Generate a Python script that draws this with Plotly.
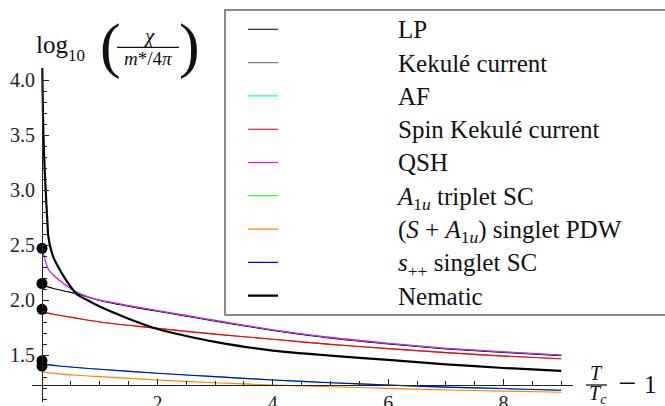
import plotly.graph_objects as go

W, H = 665, 406
FONT = "Liberation Serif, Times New Roman, serif"

# ---------------- data ----------------
x_lp = [0.02, 0.05, 0.2, 0.4, 0.625, 0.8, 1.0, 1.3, 1.6, 2.0, 2.5, 3.0, 4.0, 5.0, 6.0, 7.0, 8.0, 9.0]
y_lp = [2.14, 2.13, 2.105, 2.08, 2.055, 2.025, 1.995, 1.962, 1.933, 1.898, 1.853, 1.808, 1.723, 1.653, 1.601, 1.556, 1.524, 1.494]

x_spin = [0.02, 0.05, 0.2, 0.43, 0.7, 1.0, 1.5, 2.0, 3.0, 4.0, 5.0, 6.0, 7.0, 8.0, 9.0]
y_spin = [1.89, 1.885, 1.87, 1.85, 1.825, 1.80, 1.77, 1.742, 1.69, 1.643, 1.597, 1.558, 1.522, 1.49, 1.466]
x_kek = x_spin
y_kek = [1.89, 1.885, 1.87, 1.85, 1.825, 1.80, 1.77, 1.742, 1.69, 1.643, 1.597, 1.558, 1.522, 1.49, 1.466]

x_qsh = [0.0, 0.01, 0.025, 0.05, 0.08, 0.12, 0.2, 0.3, 0.45, 0.625, 0.8, 1.0, 1.3, 1.6, 2.0, 2.5, 3.0, 4.0, 5.0, 6.0, 7.0, 8.0, 9.0]
y_qsh = [2.47, 2.45, 2.42, 2.37, 2.32, 2.27, 2.225, 2.18, 2.12, 2.065, 2.03, 2.0, 1.97, 1.94, 1.905, 1.86, 1.815, 1.73, 1.66, 1.607, 1.562, 1.53, 1.50]
x_af = x_qsh
y_af = [2.47, 2.45, 2.42, 2.37, 2.32, 2.27, 2.225, 2.18, 2.12, 2.065, 2.03, 2.0, 1.97, 1.94, 1.905, 1.86, 1.815, 1.73, 1.66, 1.607, 1.562, 1.53, 1.50]

x_spp = [0.02, 0.05, 0.3, 0.6, 1.0, 2.0, 3.0, 4.0, 5.0, 6.0, 7.0, 8.0, 9.0]
y_spp = [1.42, 1.415, 1.40, 1.387, 1.37, 1.334, 1.303, 1.273, 1.248, 1.227, 1.208, 1.195, 1.18]
x_a1u = x_spp
y_a1u = [1.42, 1.415, 1.40, 1.387, 1.37, 1.334, 1.303, 1.273, 1.248, 1.227, 1.208, 1.195, 1.18]

x_pdw = [0.02, 0.05, 0.3, 0.6, 1.0, 2.0, 3.0, 4.0, 5.0, 6.0, 7.0, 8.0, 9.0]
y_pdw = [1.35, 1.343, 1.328, 1.316, 1.303, 1.273, 1.248, 1.227, 1.212, 1.197, 1.182, 1.172, 1.161]

x_nem = [0.004, 0.012, 0.0225, 0.045, 0.069, 0.09, 0.109, 0.15, 0.196, 0.282, 0.4, 0.6, 0.8, 1.0, 1.5, 2.0, 2.5, 3.0, 4.0, 5.0, 6.0, 7.0, 8.0, 9.0]
y_nem = [4.15, 3.85, 3.53, 3.2, 2.94, 2.74, 2.58, 2.47, 2.39, 2.30, 2.195, 2.055, 1.995, 1.94, 1.83, 1.736, 1.673, 1.62, 1.54, 1.494, 1.455, 1.415, 1.382, 1.355]

x_tc = [0, 0, 0, 0, 0]
y_tc = [2.47, 2.15, 1.915, 1.448, 1.40]

x_major = [2, 4, 6, 8]
x_minor = [0.5, 1, 1.5, 2.5, 3, 3.5, 4.5, 5, 5.5, 6.5, 7, 7.5, 8.5, 9]
y_major = [1.5, 2.0, 2.5, 3.0, 3.5, 4.0]
y_major_text = ["1.5", "2.0", "2.5", "3.0", "3.5", "4.0"]
y_minor = [1.1, 1.2, 1.3, 1.4, 1.6, 1.7, 1.8, 1.9, 2.1, 2.2, 2.3, 2.4, 2.6, 2.7, 2.8, 2.9,
           3.1, 3.2, 3.3, 3.4, 3.6, 3.7, 3.8, 3.9]

series = [
    ("LP", x_lp, y_lp, "#000000", 1.1),
    ("Kekulé current", x_kek, y_kek, "#808080", 1.1),
    ("AF", x_af, y_af, "#00FFFF", 1.1),
    ("Spin Kekulé current", x_spin, y_spin, "#FF0000", 1.1),
    ("QSH", x_qsh, y_qsh, "#FF00FF", 1.1),
    ("<i>A</i><sub>1<i>u</i></sub> triplet SC", x_a1u, y_a1u, "#00FF00", 1.1),
    ("(<i>S</i> + <i>A</i><sub>1<i>u</i></sub>) singlet PDW", x_pdw, y_pdw, "#FF8000", 1.1),
    ("<i>s</i><sub>++</sub> singlet SC", x_spp, y_spp, "#0000FF", 1.1),
    ("Nematic", x_nem, y_nem, "#000000", 2.2),
]

# ---------------- pixel helpers for layout ----------------
def px(x):
    return x / W

def py(y):
    return 1 - y / H

X0_PX, XSCALE = 42.0, 57.7     # x=0 pixel, px per unit
Y2_PX, YSCALE = 300.0, 110.0   # y=2 pixel, px per unit

def xval(p):
    return (p - X0_PX) / XSCALE

def yval(p):
    return 2 + (Y2_PX - p) / YSCALE

PAD = "\u00a0" * 20

fig = go.Figure()
for i, (name, xs, ys, col, lw) in enumerate(series):
    fig.add_trace(go.Scatter(
        x=xs, y=ys, mode="lines",
        name=PAD + '<span style="font-size:25px">' + name + "</span>",
        line=dict(color=col, width=lw, shape="spline", smoothing=0.6),
        legendgroup="g%d" % i,
    ))

fig.add_trace(go.Scatter(
    x=x_tc, y=y_tc, mode="markers", showlegend=False,
    marker=dict(color="black", size=11), cliponaxis=False,
))

axis_col = "#222222"
LEG_FS = 23
item_h = LEG_FS * 1.3 + 3
row_gap = 33.3
leg_top = 29.3 - item_h / 2 - 5

fig.update_layout(
    template="none",
    width=W, height=H, autosize=False,
    margin=dict(l=0, r=0, t=0, b=0, pad=0, autoexpand=False),
    paper_bgcolor="white", plot_bgcolor="white",
    font=dict(family=FONT, size=19, color="#111111"),
    xaxis=dict(
        automargin=False,
        domain=[px(31.7), px(573)],
        range=[xval(31.7), xval(573)],
        showgrid=False, zeroline=False,
        showline=True, linecolor=axis_col, linewidth=1,
        anchor="free", position=py(385),
        ticks="inside", ticklen=6, tickwidth=1, tickcolor=axis_col,
        tickmode="array", tickvals=x_major, ticktext=[str(v) for v in x_major],
        ticklabelstandoff=0,
        minor=dict(tickmode="array", tickvals=x_minor, ticks="inside", ticklen=4,
                   tickwidth=1, tickcolor=axis_col, showgrid=False),
        tickfont=dict(family=FONT, size=20, color="#222222"),
    ),
    yaxis=dict(
        automargin=False,
        domain=[py(402), py(68)],
        range=[yval(402), yval(68)],
        showgrid=False, zeroline=False,
        showline=True, linecolor=axis_col, linewidth=1,
        anchor="free", position=px(42),
        ticks="inside", ticklen=6, tickwidth=1, tickcolor=axis_col,
        tickmode="array", tickvals=y_major, ticktext=y_major_text,
        ticklabelstandoff=3,
        minor=dict(tickmode="array", tickvals=y_minor, ticks="inside", ticklen=3.5,
                   tickwidth=1, tickcolor=axis_col, showgrid=False),
        tickfont=dict(family=FONT, size=20, color="#222222"),
    ),
    legend=dict(
        x=px(243), y=py(leg_top), xanchor="left", yanchor="top",
        bgcolor="rgba(0,0,0,0)", borderwidth=0,
        font=dict(family=FONT, size=LEG_FS, color="#111111"),
        itemwidth=30, tracegroupgap=row_gap - item_h,
        traceorder="grouped",
    ),
    showlegend=True,
)

# legend frame
fig.add_shape(type="rect", xref="paper", yref="paper",
              x0=px(225), x1=px(700), y0=py(315), y1=py(10),
              line=dict(color="#666666", width=1.5), fillcolor="rgba(0,0,0,0)", layer="above")

# fraction bars
fig.add_shape(type="line", xref="paper", yref="paper",
              x0=px(117), x1=px(179), y0=py(47.3), y1=py(47.3),
              line=dict(color="#111111", width=1.3))
fig.add_shape(type="line", xref="paper", yref="paper",
              x0=px(586), x1=px(607), y0=py(385), y1=py(385),
              line=dict(color="#111111", width=1.3))

def ann(text, x, y, size, xanchor="center", yanchor="middle"):
    fig.add_annotation(text=text, x=px(x), y=py(y), xref="paper", yref="paper",
                       showarrow=False, xanchor=xanchor, yanchor=yanchor,
                       font=dict(family=FONT, size=size, color="#111111"))

# y label: log10 ( chi / (m*/4pi) )
ann("log", 34, 44.5, 25, xanchor="left")
ann("10", 66, 55, 17, xanchor="left")
ann("(", 110, 45, 62)
ann(")", 189, 45, 62)
ann("<i>χ</i>", 149, 36, 21)
ann("<i>m</i>*/4<i>π</i>", 148, 59, 19)

# x label: T/Tc - 1
ann("<i>T</i>", 596, 373, 20)
ann("<i>T</i><sub><i>c</i></sub>", 598, 394, 20)
ann("−", 627, 383, 32)
ann("1", 650.5, 384, 25)

fig.write_html(
    "out.html",
    config={"displayModeBar": False},
    post_script="document.body.style.margin='0';document.body.style.overflow='hidden';",
)
